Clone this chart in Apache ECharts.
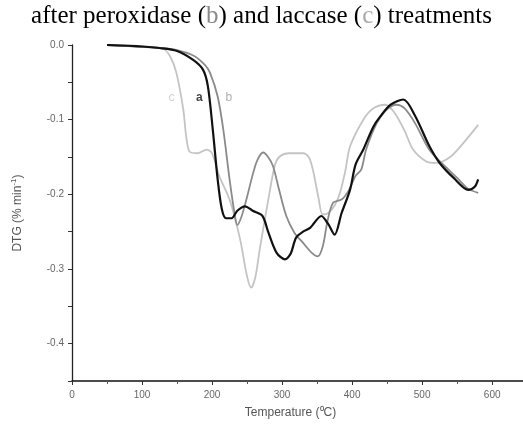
<!DOCTYPE html>
<html><head><meta charset="utf-8">
<script src="https://cdn.jsdelivr.net/npm/echarts@6/dist/echarts.min.js"></script>
<style>html,body{margin:0;padding:0;background:#fff}#c{width:523px;height:426px}</style>
</head><body><div id="c"></div>
<script>
// Temperature (°C) and DTG (% min^-1)
const tempA = [50,100,125,150,173,187,194,201,208,214,220,228,236,247,258,272,280,292,304,312,320,330,340,356,366,375,385,397,405,416,430,440,455,473,490,510,525,545,566,575,580];
const dtgA  = [0,-0.002,-0.004,-0.008,-0.020,-0.033,-0.055,-0.113,-0.18,-0.22,-0.232,-0.232,-0.222,-0.216,-0.222,-0.229,-0.25,-0.278,-0.287,-0.28,-0.258,-0.25,-0.245,-0.229,-0.24,-0.254,-0.225,-0.194,-0.16,-0.14,-0.11,-0.096,-0.08,-0.073,-0.095,-0.135,-0.158,-0.178,-0.194,-0.19,-0.18];
const tempB = [50,125,150,175,190,197,208,216,225,232,236,242,249,263,273,280,287,296,306,318,330,342,351,358,365,373,385,395,405,413,420,435,449,463,475,490,510,530,550,565,580];
const dtgB  = [0,-0.004,-0.007,-0.015,-0.027,-0.037,-0.069,-0.113,-0.18,-0.225,-0.241,-0.23,-0.207,-0.158,-0.144,-0.15,-0.162,-0.195,-0.229,-0.252,-0.265,-0.278,-0.283,-0.27,-0.235,-0.211,-0.207,-0.195,-0.175,-0.167,-0.14,-0.105,-0.087,-0.08,-0.085,-0.105,-0.14,-0.16,-0.178,-0.192,-0.198];
const tempC = [50,100,130,140,149,159,163,168,180,192,200,210,225,240,250,256,262,268,282,290,297,310,330,338,344,352,358,366,375,382,390,397,416,430,447,460,475,487,506,520,540,560,580];
const dtgC  = [0,-0.002,-0.005,-0.015,-0.037,-0.087,-0.122,-0.143,-0.145,-0.14,-0.145,-0.175,-0.207,-0.26,-0.31,-0.325,-0.31,-0.274,-0.198,-0.16,-0.149,-0.145,-0.145,-0.15,-0.167,-0.205,-0.227,-0.225,-0.215,-0.2,-0.17,-0.136,-0.1,-0.085,-0.08,-0.09,-0.115,-0.14,-0.156,-0.158,-0.15,-0.13,-0.107];
const curveNames = ['a','b','c'];
const labelPos = [[182,-0.07],[224,-0.07],[142,-0.07]];
const yTicks = [0,-0.1,-0.2,-0.3,-0.4];

const zip = (x,y)=>x.map((v,i)=>[v,y[i]]);
const colors = ['#111111','#8a8a8a','#c4c4c4'];
const widths = [2.2,1.8,1.8];
const chart = echarts.init(document.getElementById('c'));
const lines = [zip(tempA,dtgA), zip(tempB,dtgB), zip(tempC,dtgC)].map((d,i)=>({
  type:'line', data:d, smooth:0.3, showSymbol:false, symbol:'none',
  lineStyle:{color:colors[i], width:widths[i]}, z: 3-i
}));
const labels = curveNames.map((n,i)=>({
  type:'scatter', data:[labelPos[i]], symbolSize:0,
  label:{show:true, formatter:n, position:'inside', fontFamily:'Arial, Liberation Sans', fontSize:12,
    fontWeight: i===0?'bold':'normal', color: i===0?'#111':(i===1?'#999':'#c4c4c4')}
}));
const serif = 'Liberation Serif, Times New Roman, serif';
chart.setOption({
  animation:false,
  title:{
    text:'{n|after peroxidase (}{g|b}{n|) and laccase (}{l|c}{n|) treatments}',
    left:'center', top:-1,
    textStyle:{fontWeight:'normal', rich:{
      n:{fontFamily:serif, fontSize:25, fontWeight:'normal', color:'#000'},
      g:{fontFamily:serif, fontSize:25, fontWeight:'normal', color:'#888'},
      l:{fontFamily:serif, fontSize:25, fontWeight:'normal', color:'#aaa'}
    }}
  },
  grid:{left:72, right:0, top:45, bottom:45},
  xAxis:{
    type:'value', min:0, max:644, interval:100,
    name:'Temperature (\u2070C)', nameLocation:'middle', nameGap:26,
    nameTextStyle:{fontFamily:'Arial, Liberation Sans', fontSize:12, color:'#555', padding:[0,14,0,0]},
    axisLine:{show:true, onZero:false, lineStyle:{color:'#111', width:1.5}},
    axisTick:{show:true, inside:false, length:4, lineStyle:{color:'#333'}},
    minorTick:{show:true, splitNumber:2, length:3, lineStyle:{color:'#555'}},
    splitLine:{show:false},
    axisLabel:{showMaxLabel:false, margin:9, fontFamily:'Arial, Liberation Sans', fontSize:10, color:'#666',
      formatter:v=> (v%100===0 && v<=600) ? String(v) : ''}
  },
  yAxis:{
    type:'value', min:-0.45, max:0, interval:0.05,
    name:'{t|DTG (% min}{s|-1}{t|)}', nameLocation:'middle', nameGap:46, nameRotate:90,
    nameTextStyle:{rich:{t:{fontFamily:'Arial, Liberation Sans', fontSize:12, color:'#555'},
      s:{fontFamily:'Arial, Liberation Sans', fontSize:8, color:'#555', verticalAlign:'top', padding:[0,0,8,0]}}},
    axisLine:{show:true, onZero:false, lineStyle:{color:'#222', width:1.3}},
    axisTick:{show:true, inside:false, length:4, lineStyle:{color:'#333'}},
    splitLine:{show:false},
    axisLabel:{margin:8, fontFamily:'Arial, Liberation Sans', fontSize:10, color:'#666',
      formatter:v=>{ const r=Math.round(v*100); if(r%10!==0) return ''; const t=yTicks.find(y=>Math.abs(y-v)<1e-6); return t===undefined?'':(t===0?'0.0':t.toFixed(1)); }}
  },
  series: lines.concat(labels)
});
</script></body></html>
